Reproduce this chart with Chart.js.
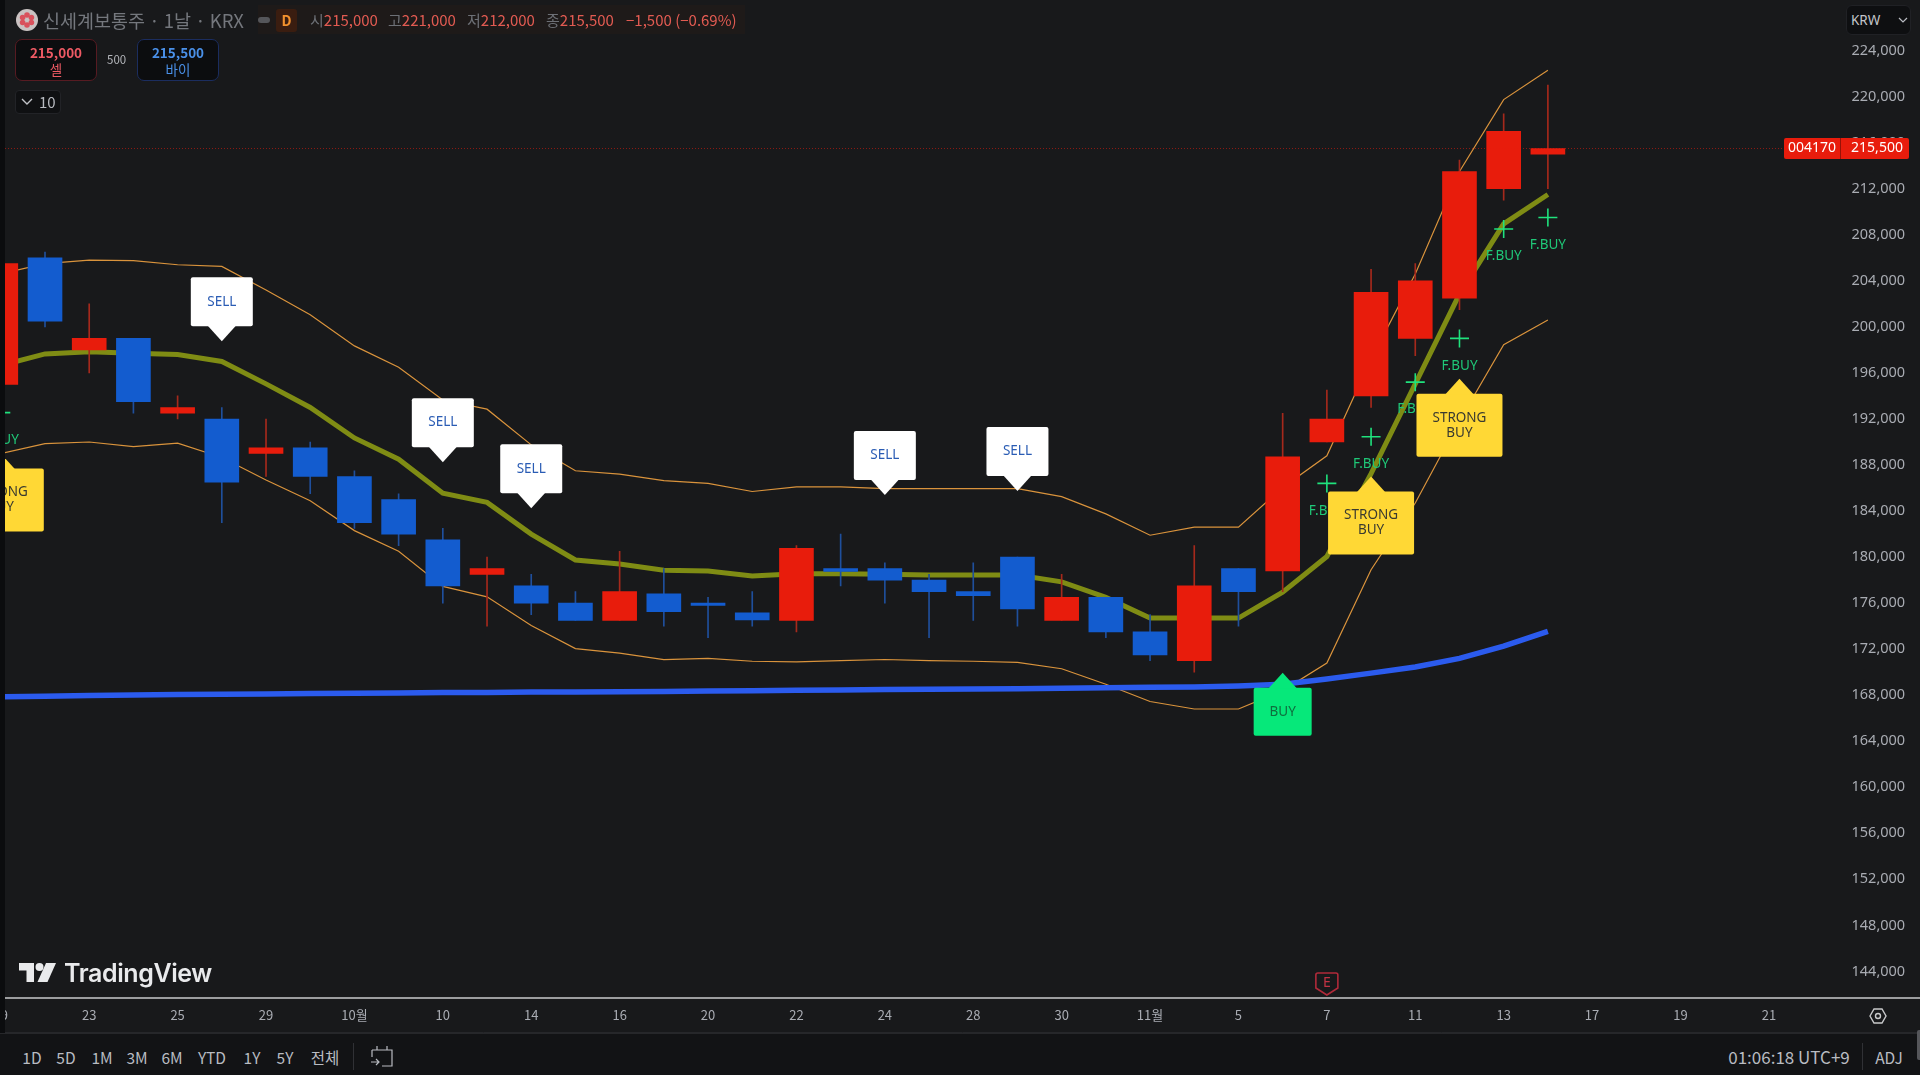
<!DOCTYPE html>
<html>
<head>
<meta charset="utf-8">
<title>신세계보통주</title>
<script src="https://cdn.jsdelivr.net/npm/chart.js@4"></script>
<style>
  html, body { margin: 0; padding: 0; background: #18191b; overflow: hidden; }
  body { width: 1920px; height: 1075px; position: relative; font-family: "Noto Sans CJK KR", "Noto Sans", sans-serif; color: #a9acb3; }
  #wrap { position: absolute; left: 0; top: 0; width: 1920px; height: 1075px; }
  .abs { position: absolute; white-space: nowrap; }
  #leftStrip { position: absolute; left: 0; top: 0; width: 5px; height: 1036px; background: #0b0c0e; }
  #botBar { position: absolute; left: 0; top: 1033px; width: 1920px; height: 42px; background: #121315; border-top: 1px solid #26272a; }
  .tb { position: absolute; top: 1046px; font-size: 15.5px; line-height: 22px; color: #b9bcc2; transform: translateX(-50%); white-space: nowrap; }
  .legend { top: 8px; font-size: 15px; line-height: 24px; }
  .up { color: #e25b52; }
  .lab { color: #6d7076; }
  .qbox { position: absolute; top: 39px; height: 42px; width: 82px; background: #0c0d0f; border-radius: 7px; text-align: center; font-size: 13.5px; line-height: 17px; padding-top: 4px; box-sizing: border-box; }
</style>
</head>
<body>
<div id="wrap"><canvas id="chart" width="1920" height="1075"></canvas></div>

<div id="leftStrip"></div>
<div id="botBar"></div>

<!-- header -->
<div class="abs" style="left:258px;top:5px;width:487px;height:29px;background:#1e1a19;"></div>
<svg class="abs" style="left:16px;top:9px;" width="22" height="22" viewBox="0 0 22 22">
  <circle cx="11" cy="11" r="11" fill="#c9c2c2"/>
  <g fill="#d9515c">
    <circle cx="11" cy="6" r="2.8"/><circle cx="15.4" cy="8.5" r="2.8"/><circle cx="15.4" cy="13.5" r="2.8"/>
    <circle cx="11" cy="16" r="2.8"/><circle cx="6.6" cy="13.5" r="2.8"/><circle cx="6.6" cy="8.5" r="2.8"/>
  </g>
</svg>
<div class="abs" style="left:43px;top:7px;font-size:18.5px;line-height:26px;color:#74777d;">신세계보통주 · 1날 · KRX</div>
<div class="abs" style="left:258px;top:17px;width:12px;height:6px;border-radius:3px;background:#55565a;"></div>
<div class="abs" style="left:276px;top:9px;width:21px;height:23px;background:#3a1d10;border-radius:3px;text-align:center;font-size:14px;line-height:23px;font-weight:700;color:#f2912e;">D</div>
<div class="abs legend" style="left:310px;"><span class="lab">시</span><span class="up">215,000</span></div>
<div class="abs legend" style="left:388px;"><span class="lab">고</span><span class="up">221,000</span></div>
<div class="abs legend" style="left:467px;"><span class="lab">저</span><span class="up">212,000</span></div>
<div class="abs legend" style="left:546px;"><span class="lab">종</span><span class="up">215,500</span></div>
<div class="abs legend up" style="left:626px;">−1,500 (−0.69%)</div>
<div class="qbox" style="left:15px;border:1px solid #571b22;color:#ee5a64;"><b>215,000</b><br>셀</div>
<div class="abs" style="left:107px;top:51px;font-size:11.5px;line-height:16px;color:#b4b6bb;">500</div>
<div class="qbox" style="left:137px;border:1px solid #1b2d5f;color:#4a90e8;"><b>215,500</b><br>바이</div>
<div class="abs" style="left:15px;top:90px;width:46px;height:24px;box-sizing:border-box;background:#0f1012;border:1px solid #222327;border-radius:4px;color:#b9bcc2;font-size:15px;line-height:22px;padding-left:23px;">10</div>
<svg class="abs" style="left:21px;top:98px;" width="12" height="8"><path d="M1 1 L6 6 L11 1" fill="none" stroke="#c0c2c7" stroke-width="1.4"/></svg>

<!-- currency box -->
<div class="abs" style="left:1846px;top:5px;width:65px;height:30px;box-sizing:border-box;background:#0e0f11;border:1px solid #202125;border-radius:6px;font-family:'Noto Sans',sans-serif;font-size:13.5px;line-height:28px;color:#c3c5ca;padding-left:4px;">KRW</div>
<svg class="abs" style="left:1898px;top:17px;" width="10" height="7"><path d="M1 1 L5 5 L9 1" fill="none" stroke="#b9bcc2" stroke-width="1.2"/></svg>

<!-- TradingView mark -->
<svg class="abs" style="left:19px;top:962px;" width="38" height="21" viewBox="0 0 38 21">
  <path d="M0 1 H15 V20 H7.5 V8.5 H0 Z" fill="#e9eaec"/>
  <circle cx="20.5" cy="5" r="4" fill="#e9eaec"/>
  <path d="M27 1 H37 L28.5 20 H18.5 Z" fill="#e9eaec"/>
</svg>
<div class="abs" style="left:64px;top:955px;font-family:Inter,Roboto,sans-serif;font-size:25px;font-weight:600;line-height:36px;letter-spacing:-0.4px;color:#e9eaec;">TradingView</div>

<!-- bottom toolbar -->
<div class="tb" style="left:32px;">1D</div>
<div class="tb" style="left:66px;">5D</div>
<div class="tb" style="left:102px;">1M</div>
<div class="tb" style="left:137px;">3M</div>
<div class="tb" style="left:172px;">6M</div>
<div class="tb" style="left:212px;">YTD</div>
<div class="tb" style="left:252px;">1Y</div>
<div class="tb" style="left:285px;">5Y</div>
<div class="tb" style="left:325px;">전체</div>
<div class="abs" style="left:353px;top:1043px;width:1px;height:27px;background:#303135;"></div>
<svg class="abs" style="left:370px;top:1044px;" width="24" height="24" fill="none" stroke="#b9bcc2" stroke-width="1.2">
  <path d="M2 6 H22 V22 H12 M2 6 V13 M7 2 V6 M17 2 V6 M1 18 H9 M6 15 L9 18 L6 21"/>
</svg>
<div class="tb" style="left:1789px;font-size:17px;">01:06:18 UTC+9</div>
<div class="abs" style="left:1862px;top:1043px;width:1px;height:27px;background:#303135;"></div>
<div class="tb" style="left:1889px;">ADJ</div>
<div class="abs" style="left:1917px;top:1030px;width:3px;height:30px;background:#55565a;border-radius:2px 0 0 2px;"></div>

<script>
// one trading day per slot, tick text only on every second bar
const dateLabels = ["19", "22", "23", "24", "25", "26", "29", "30", "10월", "2", "10", "13", "14", "15", "16", "17", "20", "21", "22", "23", "24", "27", "28", "29", "30", "31", "11월", "4", "5", "6", "7", "10", "11", "12", "13", "14", "17", "18", "19", "20", "21"];

const opens  = [195000, 206000, 198000, 199000, 192500, 192000, 189000, 189500, 187000, 185000, 181500, 178500, 177500, 176000, 174500, 176800, 176000, 175150, 174500, 179000, 179000, 178000, 177000, 180000, 174500, 176500, 173500, 171000, 179000, 178800, 190000, 194000, 199000, 202500, 212000, 215000];
const highs  = [206000, 206500, 202000, 199000, 194000, 193000, 192000, 190000, 187500, 185500, 182500, 180000, 178500, 177000, 180500, 179000, 176500, 177000, 181000, 182000, 179500, 178500, 179500, 180000, 178500, 176500, 175000, 181000, 179000, 192500, 194500, 205000, 205500, 214500, 218500, 221000];
const lows   = [194500, 200000, 196000, 192500, 192000, 183000, 187000, 185500, 182500, 181000, 176000, 174000, 175000, 174500, 174500, 174000, 173000, 174000, 173500, 177500, 176000, 173000, 174500, 174000, 174500, 173000, 171000, 170000, 174000, 177000, 190000, 193000, 197500, 201500, 211000, 212000];
const closes = [205500, 200500, 199000, 193500, 193000, 186500, 189500, 187000, 183000, 182000, 177500, 179000, 176000, 174500, 177000, 175250, 175800, 174550, 180750, 178750, 178000, 177000, 176650, 175500, 176500, 173500, 171500, 177500, 177000, 188700, 192000, 203000, 204000, 213500, 217000, 215500];

const bandMid   = [196650, 197650, 197850, 197700, 197600, 197000, 195050, 193000, 190350, 188500, 185550, 184750, 182000, 179750, 179400, 178850, 178800, 178350, 178550, 178550, 178500, 178450, 178450, 178450, 177850, 176500, 174700, 174700, 174700, 176950, 180050, 187250, 195050, 202850, 208950, 211500];
const bandUpper = [204600, 205500, 205800, 205750, 205400, 205250, 203200, 201050, 198350, 196500, 193650, 192850, 189750, 187500, 187200, 186650, 186400, 185700, 186100, 186100, 185950, 185950, 185950, 185950, 185250, 183750, 181900, 182600, 182600, 186050, 188800, 197200, 204600, 213500, 219750, 222300];
const bandLower = [189000, 189850, 190000, 189600, 189900, 188650, 186700, 184900, 182300, 180500, 177450, 176550, 174050, 172050, 171650, 171100, 171200, 170950, 170900, 171000, 171100, 171000, 170950, 170850, 170300, 168950, 167450, 166800, 166800, 168400, 170800, 178900, 184700, 191850, 198450, 200600];
const longMa    = [167850, 167920, 167980, 168020, 168060, 168090, 168110, 168140, 168170, 168190, 168230, 168240, 168270, 168280, 168310, 168330, 168370, 168390, 168430, 168450, 168490, 168510, 168550, 168570, 168610, 168640, 168690, 168720, 168800, 168960, 169400, 169920, 170450, 171200, 172260, 173540];

// signal markers: bar index and the price of the arrow tip / plus centre
const sellBars  = [5, 10, 12, 20, 23];
const sellTips  = [198750, 188250, 184250, 185400, 185750];
const strongBars = [0, 31, 33];
const strongTips = [189000, 187000, 195500];
const buyBars   = [29];
const buyTips   = [169950];
const fbuyBars  = [0, 30, 31, 32, 33, 34, 35];
const fbuyPrices = [192550, 186400, 190450, 195200, 199000, 208500, 209500];
const earningsBar = 30;

const yTicks = [144000, 148000, 152000, 156000, 160000, 164000, 168000, 172000, 176000, 180000, 184000, 188000, 192000, 196000, 200000, 204000, 208000, 212000, 216000, 220000, 224000];

const RED = "#e81c0c";
const BLUE = "#135ccf";
const RED_WICK = "#a5291c";
const BLUE_WICK = "#1f4f9c";

function toPts(arr) { return arr.map((v, i) => ({ x: i, y: v })); }
const colors = closes.map((c, i) => c >= opens[i] ? RED : BLUE);
const wickColors = closes.map((c, i) => c >= opens[i] ? RED_WICK : BLUE_WICK);

function roundBox(ctx, x, y, w, h, r) {
  ctx.beginPath();
  ctx.roundRect(x, y, w, h, r);
  ctx.fill();
}

// box with an arrow that points at (cx, tip); dir -1 = box above the tip, 1 = box below
function flagBox(ctx, cx, tip, w, h, dir, fill, lines, textColor) {
  const arrowH = 15, arrowW = 29;
  const top = dir < 0 ? tip - arrowH - h : tip + arrowH;
  ctx.fillStyle = fill;
  roundBox(ctx, cx - w / 2, top, w, h, 2);
  ctx.beginPath();
  ctx.moveTo(cx, tip);
  ctx.lineTo(cx - arrowW / 2, tip + dir * arrowH + dir);
  ctx.lineTo(cx + arrowW / 2, tip + dir * arrowH + dir);
  ctx.closePath();
  ctx.fill();
  ctx.fillStyle = textColor;
  ctx.font = '13.5px "Noto Sans", sans-serif';
  ctx.textAlign = "center";
  ctx.textBaseline = "middle";
  const mid = top + h / 2;
  lines.forEach((t, k) => ctx.fillText(t, cx, mid + (k - (lines.length - 1) / 2) * 15));
}

const markerPlugin = {
  id: "markers",
  afterDatasetsDraw(chart) {
    const { ctx, chartArea: a, scales: { x, y } } = chart;
    ctx.save();
    ctx.beginPath();
    ctx.rect(a.left, a.top, a.right - a.left, a.bottom - a.top);
    ctx.clip();

    // last price line
    const last = closes[closes.length - 1];
    ctx.strokeStyle = "rgba(232,28,12,0.55)";
    ctx.lineWidth = 1;
    ctx.setLineDash([1, 2]);
    ctx.beginPath();
    ctx.moveTo(a.left, Math.round(y.getPixelForValue(last)) + 0.5);
    ctx.lineTo(a.right, Math.round(y.getPixelForValue(last)) + 0.5);
    ctx.stroke();
    ctx.setLineDash([]);

    // F.BUY goes under the big boxes
    fbuyBars.forEach((b, i) => {
      const px = x.getPixelForValue(b), py = y.getPixelForValue(fbuyPrices[i]);
      ctx.strokeStyle = "#1fe27d";
      ctx.lineWidth = 1.6;
      ctx.beginPath();
      ctx.moveTo(px - 9.5, py); ctx.lineTo(px + 9.5, py);
      ctx.moveTo(px, py - 9); ctx.lineTo(px, py + 9);
      ctx.stroke();
      ctx.fillStyle = "#1fc878";
      ctx.font = '13.5px "Noto Sans", sans-serif';
      ctx.textAlign = "center";
      ctx.textBaseline = "middle";
      ctx.fillText("F.BUY", px, py + 27.5);
    });

    sellBars.forEach((b, i) => flagBox(ctx, x.getPixelForValue(b), y.getPixelForValue(sellTips[i]), 62, 49, -1, "#ffffff", ["SELL"], "#2a5cb4"));
    strongBars.forEach((b, i) => flagBox(ctx, x.getPixelForValue(b), y.getPixelForValue(strongTips[i]), 86, 63, 1, "#ffd835", ["STRONG", "BUY"], "#3a3a30"));
    buyBars.forEach((b, i) => flagBox(ctx, x.getPixelForValue(b), y.getPixelForValue(buyTips[i]), 58, 48, 1, "#06e87a", ["BUY"], "#0f6e3e"));

    // earnings badge sits on the time axis line
    const ex = x.getPixelForValue(earningsBar);
    ctx.strokeStyle = "#b02a3a";
    ctx.lineWidth = 1.6;
    ctx.beginPath();
    ctx.moveTo(ex - 11, 988); ctx.lineTo(ex - 11, 975);
    ctx.quadraticCurveTo(ex - 11, 973, ex - 9, 973); ctx.lineTo(ex + 9, 973);
    ctx.quadraticCurveTo(ex + 11, 973, ex + 11, 975); ctx.lineTo(ex + 11, 988);
    ctx.lineTo(ex, 995); ctx.closePath();
    ctx.stroke();
    ctx.fillStyle = "#c23344";
    ctx.font = '14px "Noto Sans", sans-serif';
    ctx.fillText("E", ex, 983);
    ctx.restore();

    // last price tag on the price axis
    const ly = Math.round(y.getPixelForValue(last));
    ctx.fillStyle = RED;
    roundBox(ctx, 1784, ly - 10, 125, 21, 2);
    ctx.strokeStyle = "rgba(0,0,0,0.35)";
    ctx.lineWidth = 1;
    ctx.beginPath();
    ctx.moveTo(1840.5, ly - 10); ctx.lineTo(1840.5, ly + 11);
    ctx.stroke();
    ctx.fillStyle = "#ffffff";
    ctx.font = '14px "Noto Sans", sans-serif';
    ctx.textAlign = "center";
    ctx.textBaseline = "middle";
    ctx.fillText("004170", 1812, ly + 0.5);
    ctx.fillText(last.toLocaleString("en-US"), 1877, ly + 0.5);

    // time axis border and settings hexagon
    ctx.strokeStyle = "#c9cacc";
    ctx.lineWidth = 1.5;
    ctx.beginPath();
    ctx.moveTo(5, 998); ctx.lineTo(1920, 998);
    ctx.stroke();
    ctx.strokeStyle = "#26272a";
    ctx.lineWidth = 1;
    ctx.beginPath();
    ctx.moveTo(5, 1032.5); ctx.lineTo(1920, 1032.5);
    ctx.stroke();
    const gx = 1878, gy = 1016;
    ctx.strokeStyle = "#c9cacc";
    ctx.lineWidth = 1.4;
    ctx.beginPath();
    ctx.moveTo(gx - 8, gy); ctx.lineTo(gx - 4, gy - 7); ctx.lineTo(gx + 4, gy - 7);
    ctx.lineTo(gx + 8, gy); ctx.lineTo(gx + 4, gy + 7); ctx.lineTo(gx - 4, gy + 7);
    ctx.closePath();
    ctx.moveTo(gx + 2.5, gy);
    ctx.arc(gx, gy, 2.5, 0, Math.PI * 2);
    ctx.stroke();
  }
};

new Chart(document.getElementById("chart").getContext("2d"), {
  data: {
    datasets: [
      { type: "line", data: toPts(bandUpper), borderColor: "#d9933c", borderWidth: 1.2, pointRadius: 0, tension: 0, order: 5 },
      { type: "line", data: toPts(bandLower), borderColor: "#d9933c", borderWidth: 1.2, pointRadius: 0, tension: 0, order: 5 },
      { type: "line", data: toPts(bandMid), borderColor: "#7f8c14", borderWidth: 5, pointRadius: 0, tension: 0, order: 4 },
      { type: "line", data: toPts(longMa), borderColor: "#2b5bee", borderWidth: 5.5, pointRadius: 0, tension: 0, order: 4 },
      // wicks
      { type: "bar", data: lows.map((l, i) => ({ x: i, y: [l, highs[i]] })), backgroundColor: wickColors, barThickness: 1, grouped: false, order: 3 },
      // bodies
      { type: "bar", data: opens.map((o, i) => ({ x: i, y: [o, closes[i]] })), backgroundColor: colors, barThickness: 34, grouped: false, order: 2 }
    ]
  },
  plugins: [markerPlugin],
  options: {
    responsive: false,
    animation: false,
    layout: { autoPadding: false, padding: { left: 5, top: 0, right: 0, bottom: 43 } },
    plugins: { legend: { display: false }, tooltip: { enabled: false } },
    scales: {
      x: {
        type: "linear",
        offset: false,
        min: 0.095,
        max: 41.62,
        grid: { display: false },
        border: { display: false },
        afterBuildTicks(axis) {
          axis.ticks = dateLabels.map((d, i) => ({ value: i })).filter(t => t.value % 2 === 0);
        },
        ticks: {
          autoSkip: false,
          maxRotation: 0,
          padding: 1,
          color: "#a9acb3",
          font: { size: 13, family: '"Noto Sans CJK KR", "Noto Sans", sans-serif' },
          callback(v) { return dateLabels[v]; }
        },
        afterFit(axis) {
          axis.height = 34;
          // labels may hang past the edges, the plot must stay full size
          axis.paddingLeft = 0;
          axis.paddingRight = 0;
        }
      },
      y: {
        position: "right",
        min: 141693,
        max: 228400,
        grid: { display: false },
        border: { display: false },
        afterBuildTicks(axis) { axis.ticks = yTicks.map(v => ({ value: v })); },
        ticks: {
          autoSkip: false,
          padding: 3,
          color: "#a9acb3",
          font: { size: 14.5, family: '"Noto Sans", sans-serif' },
          callback(v) { return v.toLocaleString("en-US"); }
        },
        afterFit(axis) {
          axis.width = 79.5;
          axis.paddingTop = 0;
          axis.paddingBottom = 0;
        }
      }
    }
  }
});
</script>
</body>
</html>
